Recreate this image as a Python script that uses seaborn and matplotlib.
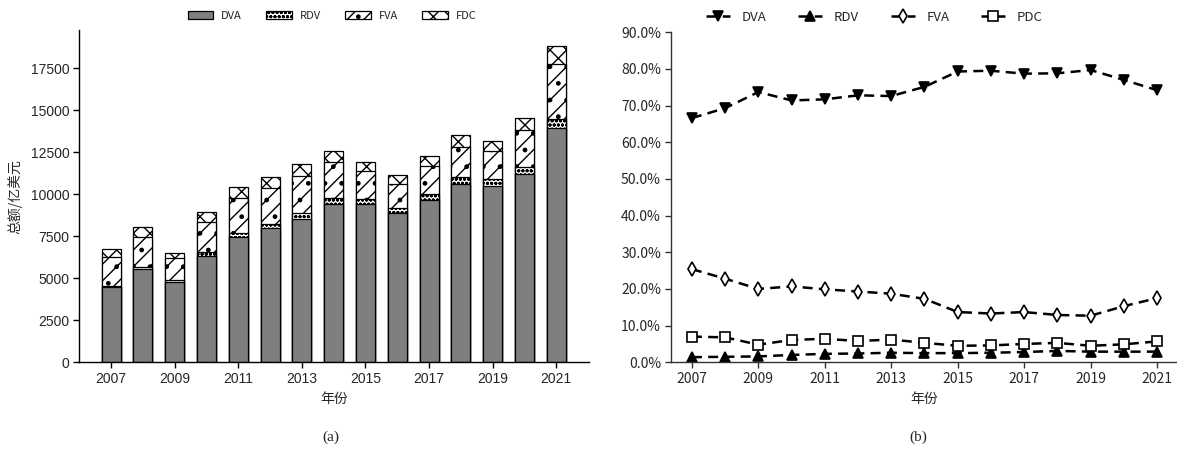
import seaborn as sns
import matplotlib.pyplot as plt
import pandas as pd
from matplotlib.ticker import PercentFormatter

# données
years = [2007, 2008, 2009, 2010, 2011, 2012, 2013, 2014, 2015, 2016, 2017, 2018, 2019, 2020, 2021]

# (a) montants, 亿美元
dva = [4455, 5540, 4790, 6355, 7480, 7985, 8555, 9445, 9440, 8865, 9665, 10630, 10515, 11185, 13940]
rdv = [95, 120, 105, 180, 240, 265, 305, 315, 300, 290, 345, 420, 385, 420, 550]
fva = [1700, 1825, 1300, 1840, 2075, 2115, 2205, 2175, 1630, 1485, 1680, 1740, 1675, 2220, 3250]
fdc = [470, 545, 310, 545, 665, 635, 730, 665, 535, 515, 615, 715, 595, 710, 1060]

# (b) parts, %
dva_pct = [66.6, 69.3, 73.7, 71.4, 71.7, 72.8, 72.6, 75.1, 79.3, 79.5, 78.7, 78.8, 79.7, 77.0, 74.2]
rdv_pct = [1.4, 1.5, 1.6, 2.0, 2.3, 2.4, 2.6, 2.5, 2.5, 2.6, 2.8, 3.1, 2.9, 2.9, 2.9]
fva_pct = [25.4, 22.8, 20.0, 20.7, 19.9, 19.3, 18.7, 17.3, 13.7, 13.3, 13.7, 12.9, 12.7, 15.3, 17.5]
pdc_pct = [7.0, 6.8, 4.8, 6.1, 6.4, 5.8, 6.2, 5.3, 4.5, 4.6, 5.0, 5.3, 4.5, 4.9, 5.7]

sns.set_style('white')
plt.rcParams['font.family'] = ['Noto Sans CJK SC', 'DejaVu Sans']
plt.rcParams['hatch.linewidth'] = 1.0

fig = plt.figure(figsize=(11.77, 4.54), dpi=100)
ax1 = fig.add_axes([0.0674, 0.202, 0.433, 0.732])
ax2 = fig.add_axes([0.5698, 0.202, 0.4302, 0.727])

# --- (a) barres empilées : on trace les cumuls du plus haut au plus bas
df = pd.DataFrame({'year': years, 'DVA': dva, 'RDV': rdv, 'FVA': fva, 'FDC': fdc})
df['c1'] = df['DVA']
df['c2'] = df['c1'] + df['RDV']
df['c3'] = df['c2'] + df['FVA']
df['c4'] = df['c3'] + df['FDC']

layers = [('c4', 'FDC', 'white', 'xx'),
          ('c3', 'FVA', 'white', '//.'),
          ('c2', 'RDV', 'white', 'oooo'),
          ('c1', 'DVA', '#7f7f7f', None)]
for col, lab, fc, hatch in layers:
    sns.barplot(data=df, x='year', y=col, ax=ax1, color=fc, saturation=1,
                edgecolor='black', linewidth=0.9, hatch=hatch, width=0.6,
                label=lab)
if ax1.get_legend() is not None:
    ax1.get_legend().remove()

ax1.set_xlim(-1, 15.03)
ax1.set_ylim(0, 19780)
ax1.set_yticks([0, 2500, 5000, 7500, 10000, 12500, 15000, 17500])
ax1.set_xticks(range(0, 15, 2))
ax1.set_xticklabels([str(y) for y in years[::2]])
for t in ax1.get_xticklabels() + ax1.get_yticklabels():
    t.set_family('Liberation Sans')
    t.set_fontsize(10)
ax1.set_xlabel('年份', fontsize=10, labelpad=4)
ax1.set_ylabel('总额/亿美元', fontsize=10, labelpad=6)
ax1.tick_params(axis='both', direction='out', length=4, width=1, color='black',
                bottom=True, left=True, pad=3)
sns.despine(ax=ax1)
for s in ['left', 'bottom']:
    ax1.spines[s].set_color('black')
    ax1.spines[s].set_linewidth(1)

h, l = ax1.get_legend_handles_labels()
order = ['DVA', 'RDV', 'FVA', 'FDC']
hd = dict(zip(l, h))
fig.legend([hd[k] for k in order], order, loc='center', bbox_to_anchor=(0.282, 0.965),
           ncol=4, frameon=False, fontsize=8, handlelength=2.3, handleheight=0.75,
           handletextpad=0.7, columnspacing=2.2)

# --- (b) parts
series = [('DVA', dva_pct, 'v', 'black'),
          ('RDV', rdv_pct, '^', 'black'),
          ('FVA', fva_pct, 'd', 'white'),
          ('PDC', pdc_pct, 's', 'white')]
for lab, vals, mk, mfc in series:
    sns.lineplot(x=years, y=vals, ax=ax2, color='black', marker=mk, markersize=7,
                 markerfacecolor=mfc, markeredgecolor='black', markeredgewidth=1.2,
                 linewidth=1.8, linestyle=(0, (4, 2.5)), label=lab, legend=False)

ax2.set_xlim(2006.36, 2021.6)
ax2.set_ylim(0, 90)
ax2.set_yticks(range(0, 91, 10))
ax2.yaxis.set_major_formatter(PercentFormatter(100, decimals=1))
ax2.set_xticks(years[::2])
ax2.set_xticklabels([str(y) for y in years[::2]])
ax2.tick_params(axis='both', direction='out', length=4, width=1, color='#333333',
                bottom=True, left=True, labelsize=10, pad=3)
ax2.set_xlabel('年份', fontsize=10, labelpad=4)
ax2.set_ylabel('')
sns.despine(ax=ax2)
for s in ['left', 'bottom']:
    ax2.spines[s].set_color('#333333')
    ax2.spines[s].set_linewidth(1)

h2, l2 = ax2.get_legend_handles_labels()
fig.legend(h2, l2, loc='center', bbox_to_anchor=(0.743, 0.962), ncol=4, frameon=False,
           fontsize=9.5, handlelength=1.8, handletextpad=0.9, columnspacing=2.4)

fig.text(0.281, 0.037, '(a)', ha='center', va='center', family='Liberation Serif', fontsize=11)
fig.text(0.780, 0.037, '(b)', ha='center', va='center', family='Liberation Serif', fontsize=11)

fig.savefig('out.png', dpi=100)
